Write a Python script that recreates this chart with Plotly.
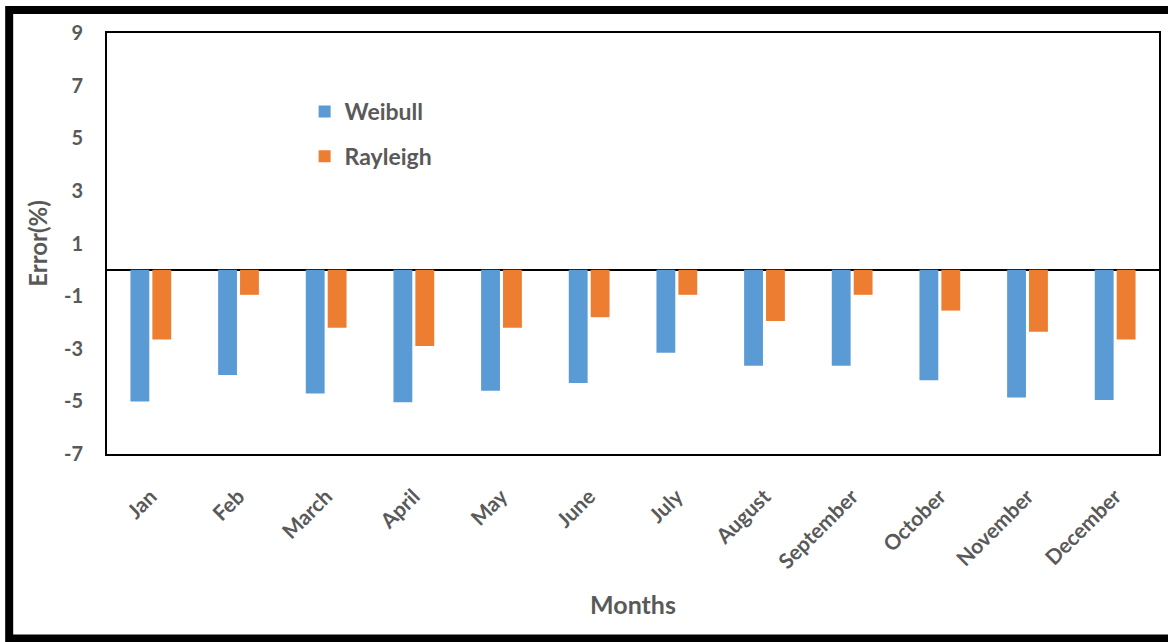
import plotly.graph_objects as go

months = ["Jan", "Feb", "March", "April", "May", "June", "July", "August",
          "September", "October", "November", "December"]
weibull = [-5.0, -4.0, -4.7, -5.03, -4.6, -4.3, -3.15, -3.65, -3.65, -4.2, -4.85, -4.95]
rayleigh = [-2.65, -0.95, -2.2, -2.9, -2.2, -1.8, -0.95, -1.95, -0.95, -1.55, -2.35, -2.65]
y_ticks = [9, 7, 5, 3, 1, -1, -3, -5, -7]

BLUE = "#5B9BD5"
ORANGE = "#ED7D31"
GREY = "#595959"
FONT = "Lato"

fig = go.Figure()
fig.add_trace(go.Bar(x=months, y=weibull, name="Weibull", marker_color=BLUE,
                     marker_line_width=0, legendgroup="w"))
fig.add_trace(go.Bar(x=months, y=rayleigh, name="Rayleigh", marker_color=ORANGE,
                     marker_line_width=0, legendgroup="r"))

W, H = 1168, 642
L, R, T, B = 107, 7, 33, 188
pw, ph = W - L - R, H - T - B

def px(xp):
    return (xp - L) / pw

def py(yp):
    return (H - B - yp) / ph

fig.update_layout(
    width=W, height=H,
    margin=dict(l=L, r=R, t=T, b=B),
    paper_bgcolor="white", plot_bgcolor="white",
    font=dict(family=FONT, color=GREY, size=18),
    barmode="group", bargap=0.5, bargroupgap=0.14,
    showlegend=True,
    legend=dict(x=px(305), y=py(90), xanchor="left", yanchor="top",
                bgcolor="rgba(0,0,0,0)", traceorder="grouped", tracegroupgap=12,
                font=dict(family=FONT, size=23, color=GREY, weight="bold")),
    xaxis=dict(
        tickangle=-45, showgrid=False, ticks="", showline=True, mirror=True,
        linecolor="black", linewidth=2,
        tickfont=dict(family=FONT, size=21, color=GREY, weight="bold"),
        ticklabelstandoff=20,
        title=dict(text="Months", standoff=24,
                   font=dict(family=FONT, size=25, color=GREY, weight="bold")),
    ),
    yaxis=dict(
        range=[-7, 9], tickvals=y_ticks, ticktext=[str(v) for v in y_ticks],
        showgrid=False, ticks="", showline=True, mirror=True,
        linecolor="black", linewidth=2,
        zeroline=True, zerolinecolor="black", zerolinewidth=2,
        tickfont=dict(family=FONT, size=20, color=GREY, weight="bold"),
        ticklabelstandoff=18,
        title=dict(text="Error(%)", standoff=10,
                   font=dict(family=FONT, size=24, color=GREY, weight="bold")),
    ),
    shapes=[
        # outer black frame around the whole figure
        dict(type="rect", xref="paper", yref="paper",
             x0=px(9), x1=px(1175), y0=py(638.5), y1=py(10),
             line=dict(color="black", width=8), fillcolor="rgba(0,0,0,0)",
             layer="above"),
    ],
)

fig.write_html("out.html")
